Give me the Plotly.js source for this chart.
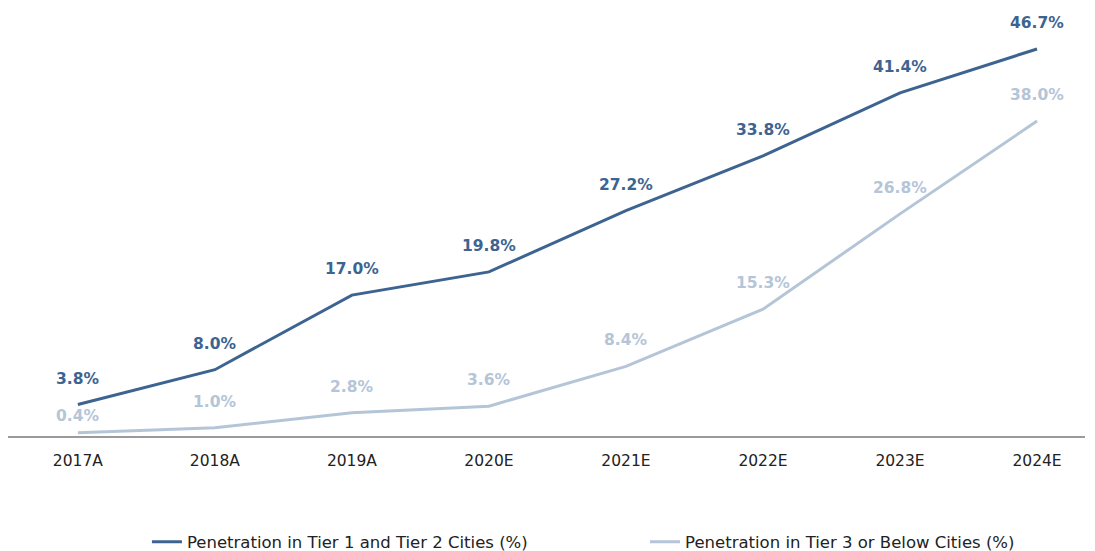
<!DOCTYPE html>
<html><head><meta charset="utf-8">
<script src="https://cdn.plot.ly/plotly-3.0.1.min.js"></script>
<style>html,body{margin:0;padding:0;background:#fff}#chart{width:1095px;height:551px}</style>
</head><body><div id="chart"></div>
<script>
var categories = ["2017A","2018A","2019A","2020E","2021E","2022E","2023E","2024E"];
var tier12 = [3.8, 8.0, 17.0, 19.8, 27.2, 33.8, 41.4, 46.7];
var tier3 = [0.4, 1.0, 2.8, 3.6, 8.4, 15.3, 26.8, 38.0];
var names = ["Penetration in Tier 1 and Tier 2 Cities (%)", "Penetration in Tier 3 or Below Cities (%)"];
var darkC = "#3d6491", lightC = "#b5c5d8";
var FONT = "DejaVu Sans, Liberation Sans, Arial, sans-serif";

var traces = [
  {x: categories, y: tier12, type: "scatter", mode: "lines", name: names[0],
   line: {color: darkC, width: 3}, hoverinfo: "skip", legend: "legend"},
  {x: categories, y: tier3, type: "scatter", mode: "lines", name: names[1],
   line: {color: lightC, width: 3}, hoverinfo: "skip", legend: "legend2"}
];
var ann = [];
categories.forEach(function(c, i){
  ann.push({x: c, y: tier12[i], text: "<b>" + tier12[i].toFixed(1) + "%</b>", showarrow: false,
    yshift: 26, font: {family: FONT, size: 15.5, color: darkC}});
  ann.push({x: c, y: tier3[i], text: "<b>" + tier3[i].toFixed(1) + "%</b>", showarrow: false,
    yshift: (i === 0 ? 17 : 26), font: {family: FONT, size: 15.5, color: lightC}});
});
var legCommon = {orientation: "h", xanchor: "left", yanchor: "middle", yref: "container",
  y: 0.0165, font: {family: FONT, size: 16.5, color: "#222"}, itemwidth: 30, bgcolor: "rgba(0,0,0,0)"};
var layout = {
  width: 1095, height: 551,
  margin: {l: 8, r: 10, t: 10, b: 115},
  paper_bgcolor: "#fff", plot_bgcolor: "#fff",
  font: {family: FONT, size: 15.5, color: "#222"},
  xaxis: {type: "category", range: [-0.51, 7.35], showgrid: false, zeroline: false,
    showline: true, linecolor: "#9a9a9a", linewidth: 1.5, ticks: "", ticklabelstandoff: 10,
    tickfont: {family: FONT, size: 15.5, color: "#222"}, fixedrange: true},
  yaxis: {range: [0, 51.4], visible: false, fixedrange: true},
  showlegend: true,
  legend: Object.assign({}, legCommon, {x: 0.129}),
  legend2: Object.assign({}, legCommon, {x: 0.5915}),
  annotations: ann
};
Plotly.newPlot("chart", traces, layout, {displayModeBar: false, staticPlot: true});
</script></body></html>
